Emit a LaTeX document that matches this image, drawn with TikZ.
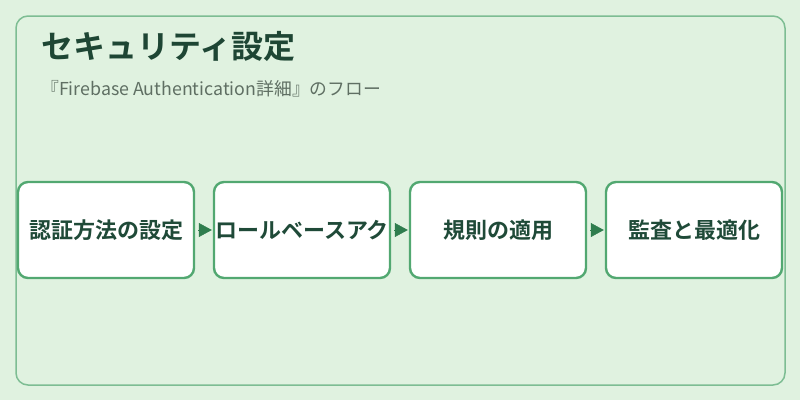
\documentclass[tikz,border=0pt]{standalone}
\usepackage{fontspec}
\setmainfont{Noto Sans CJK JP}[BoldFont={Noto Sans CJK JP Bold}]
\usetikzlibrary{arrows.meta}
\definecolor{bgc}{HTML}{E0F2E0}
\definecolor{outerc}{HTML}{7DBD93}
\definecolor{boxc}{HTML}{52A871}
\definecolor{arrc}{HTML}{2F7D4E}
\definecolor{titlec}{HTML}{1E4634}
\definecolor{subc}{HTML}{5F6F63}
\definecolor{boxtxt}{HTML}{1F4A38}
\tikzset{
  stepbox/.style={draw=boxc, line width=2.4pt, fill=white, rounded corners=10pt,
    minimum width=176pt, minimum height=96pt, inner sep=0pt,
    font=\bfseries\fontsize{22}{26}\selectfont, text=boxtxt},
  flow/.style={draw=arrc, fill=arrc, line width=0.5pt, -{Triangle[length=13pt,width=14pt]}, shorten <=3pt, shorten >=1pt}
}
\begin{document}
\begin{tikzpicture}[x=1pt,y=-1pt]
\useasboundingbox (0,0) rectangle (800,400);
\fill[bgc] (0,0) rectangle (800,400);
\draw[outerc, line width=1.5pt, rounded corners=12pt] (16,16) rectangle (785,385);
\node[anchor=base west, font=\bfseries\fontsize{32}{36}\selectfont, text=titlec, inner sep=0pt] (title) at (41,58) {セキュリティ設定};
\node[anchor=base west, font=\fontsize{17.8}{20}\selectfont, text=subc, inner sep=0pt] (sub) at (41,95) {『Firebase Authentication詳細』のフロー};
\node[stepbox] (b1) at (106,230) {認証方法の設定};
\node[stepbox] (b2) at (302,230) {ロールベースアク};
\node[stepbox] (b3) at (498,230) {規則の適用};
\node[stepbox] (b4) at (694,230) {監査と最適化};
\draw[flow] (b1.east) -- (b2.west);
\draw[flow] (b2.east) -- (b3.west);
\draw[flow] (b3.east) -- (b4.west);
\end{tikzpicture}
\end{document}
